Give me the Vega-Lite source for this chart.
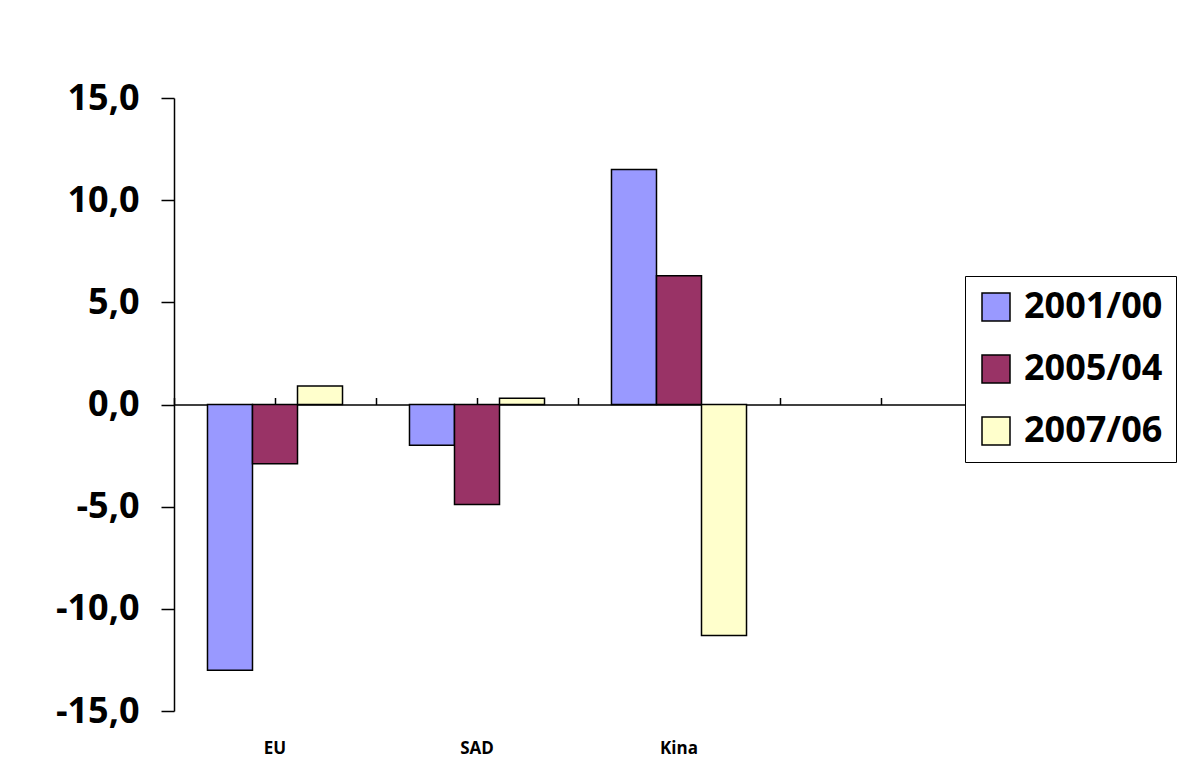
{
  "$schema": "https://vega.github.io/schema/vega-lite/v6.json",
  "width": 808,
  "height": 613,
  "autosize": {"type": "none"},
  "padding": {"left": 174, "top": 98, "right": 202, "bottom": 51},
  "background": "white",
  "config": {"view": {"stroke": null}, "font": "Open Sans"},
  "data": {
    "values": [
      {"region": "EU", "series": "2001/00", "value": -13.0},
      {"region": "EU", "series": "2005/04", "value": -2.9},
      {"region": "EU", "series": "2007/06", "value": 0.9},
      {"region": "SAD", "series": "2001/00", "value": -2.0},
      {"region": "SAD", "series": "2005/04", "value": -4.9},
      {"region": "SAD", "series": "2007/06", "value": 0.3},
      {"region": "Kina", "series": "2001/00", "value": 11.5},
      {"region": "Kina", "series": "2005/04", "value": 6.3},
      {"region": "Kina", "series": "2007/06", "value": -11.3}
    ]
  },
  "layer": [
    {
      "mark": {"type": "bar", "stroke": "black", "strokeWidth": 1.5},
      "encoding": {
        "x": {
          "field": "region", "type": "nominal",
          "scale": {"domain": ["EU", "SAD", "Kina", " "], "paddingInner": 0, "paddingOuter": 0},
          "axis": {"orient": "bottom", "domain": false, "ticks": false, "labelAngle": 0, "labelFont": "Open Sans", "labelFontWeight": "bold", "labelFontSize": 17, "labelColor": "black", "labelPadding": 29, "title": null}
        },
        "xOffset": {
          "field": "series", "type": "nominal",
          "scale": {"domain": ["2001/00", "2005/04", "2007/06"], "paddingInner": 0, "paddingOuter": 0.744}
        },
        "y": {
          "field": "value", "type": "quantitative",
          "scale": {"domain": [-15, 15], "nice": false, "zero": false},
          "axis": {
            "values": [-15, -10, -5, 0, 5, 10, 15],
            "labelExpr": "replace(replace(format(datum.value, '.1f'), '.', ','), '\u2212', '-')",
            "grid": false, "domainColor": "black", "domainWidth": 1.5,
            "tickColor": "black", "tickWidth": 1.5, "tickSize": 13,
            "labelPadding": 22, "labelFont": "Open Sans", "labelFontSize": 36, "labelFontWeight": "bold", "labelColor": "black",
            "title": null
          }
        },
        "fill": {
          "field": "series", "type": "nominal",
          "scale": {"domain": ["2001/00", "2005/04", "2007/06"], "range": ["#9999FF", "#993366", "#FFFFCC"]},
          "legend": {
            "orient": "none", "legendX": 791, "legendY": 178, "title": null,
            "strokeColor": "black", "fillColor": "white", "padding": 13,
            "symbolType": "square", "symbolSize": 784, "symbolStrokeColor": "black", "symbolStrokeWidth": 1.5, "symbolOpacity": 1,
            "labelFont": "Open Sans", "labelFontSize": 36, "labelFontWeight": "bold", "labelColor": "black",
            "labelOffset": 10, "rowPadding": 26, "labelLimit": 300
          }
        }
      }
    },
    {
      "mark": {"type": "point", "opacity": 0},
      "encoding": {
        "x": {
          "field": "region", "type": "nominal",
          "axis": {"orient": "top", "offset": -306.5, "bandPosition": 0, "domain": true, "domainColor": "black", "domainWidth": 1.5, "ticks": true, "tickSize": 7, "tickColor": "black", "tickWidth": 1.5, "labels": false, "title": null}
        },
        "y": {"field": "value", "type": "quantitative", "axis": null}
      }
    },
    {
      "mark": {"type": "point", "opacity": 0},
      "encoding": {
        "x": {
          "field": "region", "type": "nominal",
          "axis": {"orient": "top", "offset": -306.5, "bandPosition": 0.5, "domain": false, "ticks": true, "tickSize": 7, "tickColor": "black", "tickWidth": 1.5, "labels": false, "title": null}
        },
        "y": {"field": "value", "type": "quantitative", "axis": null}
      }
    }
  ],
  "resolve": {"axis": {"x": "independent", "y": "independent"}}
}
